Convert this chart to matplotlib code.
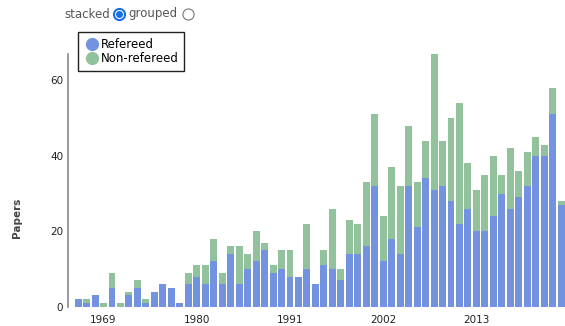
import numpy as np
import matplotlib
matplotlib.use('Agg')
import matplotlib.pyplot as plt
from matplotlib.lines import Line2D

years = list(range(1966, 2024))
refereed = [2, 1, 3, 0, 5, 0, 3, 5, 1, 4,
            6, 5, 1, 6, 8, 6, 12, 6, 14, 6,
            10, 12, 15, 9, 10, 8, 8, 10, 6, 11,
            10, 7, 14, 14, 16, 32, 12, 18, 14, 32,
            21, 34, 31, 32, 28, 22, 26, 20, 20, 24,
            30, 26, 29, 32, 40, 40, 51, 27]
non_refereed = [0, 1, 0, 1, 4, 1, 1, 2, 1, 0,
                0, 0, 0, 3, 3, 5, 6, 3, 2, 10,
                4, 8, 2, 2, 5, 7, 0, 12, 0, 4,
                16, 3, 9, 8, 17, 19, 12, 19, 18, 16,
                12, 10, 36, 12, 22, 32, 12, 11, 15, 16,
                5, 16, 7, 9, 5, 3, 7, 1]
xtick_years = [1969, 1980, 1991, 2002, 2013]

blue = '#7393e0'
green = '#92c29b'

W, H = 565, 326
fig = plt.figure(figsize=(W / 100, H / 100), dpi=100)
ax = fig.add_axes([67.5 / W, 1 - 306.7 / H, (W - 67.5) / W, (306.7 - 54) / H])

x = np.array(years)
ref = np.array(refereed)
non = np.array(non_refereed)
ax.bar(x, ref, width=0.82, color=blue, label='Refereed')
ax.bar(x, non, width=0.82, bottom=ref, color=green, label='Non-refereed')

ax.set_xlim(1964.75, 2023.45)
ax.set_ylim(0, 67)
ax.set_xticks(xtick_years)
ax.set_yticks([0, 20, 40, 60])
ax.tick_params(axis='both', length=0, labelsize=7.5, colors='#222')
ax.tick_params(axis='x', pad=6)
ax.tick_params(axis='y', pad=3)
for s in ['top', 'right', 'bottom']:
    ax.spines[s].set_visible(False)
ax.spines['left'].set_color('#888')
ax.spines['left'].set_linewidth(1.2)

fig.text(17 / W, 1 - 218 / H, 'Papers', rotation=90, ha='center', va='center',
         fontsize=7.5, fontweight='bold', color='#444')

# legend box
handles = [Line2D([], [], marker='o', ls='', markersize=8.5, color=blue),
           Line2D([], [], marker='o', ls='', markersize=8.5, color=green)]
leg = ax.legend(handles, ['Refereed', 'Non-refereed'], loc='upper left',
                bbox_to_anchor=(78 / W, 1 - 32 / H), bbox_transform=fig.transFigure,
                fancybox=False, fontsize=8.5, handletextpad=0.1, handlelength=1.3,
                borderpad=0.5, labelspacing=0.1, borderaxespad=0, framealpha=1)
leg.get_frame().set_edgecolor('#222')
leg.get_frame().set_linewidth(1.0)

# radio toggle
fig.text(64 / W, 1 - 14 / H, 'stacked', ha='left', va='center', fontsize=8.5, color='#555')
fig.text(128 / W, 1 - 14 / H, 'grouped', ha='left', va='center', fontsize=8.5, color='#555')
tf = fig.transFigure
fig.add_artist(Line2D([119 / W], [1 - 14 / H], marker='o', markersize=8.5, color='#1a6fe0', transform=tf))
fig.add_artist(Line2D([119 / W], [1 - 14 / H], marker='o', markersize=5.5, color='white', transform=tf))
fig.add_artist(Line2D([119 / W], [1 - 14 / H], marker='o', markersize=4, color='#1a6fe0', transform=tf))
fig.add_artist(Line2D([188 / W], [1 - 14 / H], marker='o', markersize=8, markerfacecolor='white',
                      markeredgecolor='#777', markeredgewidth=0.8, transform=tf))

fig.savefig('out.png', dpi=100)
